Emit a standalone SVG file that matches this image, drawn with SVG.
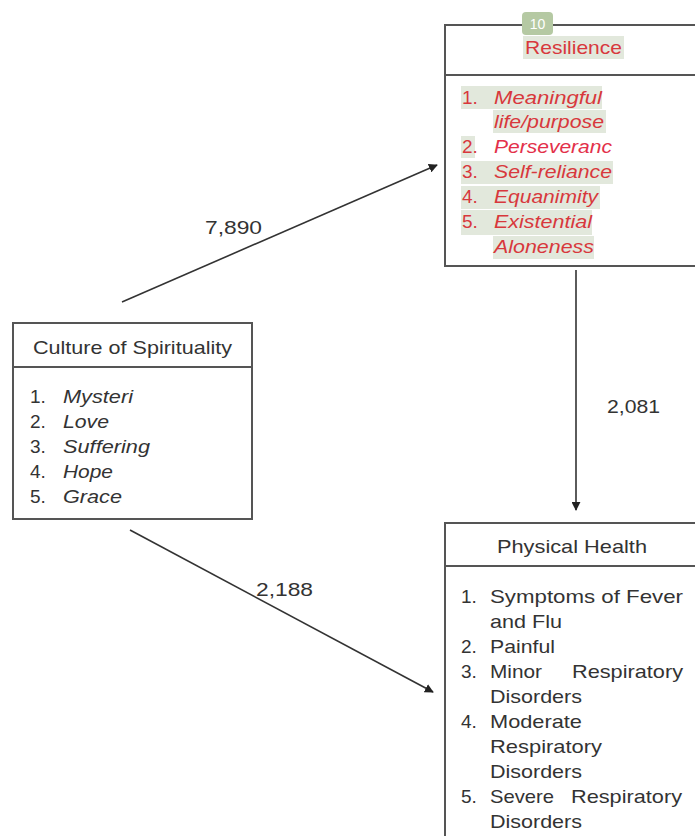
<svg xmlns="http://www.w3.org/2000/svg" width="695" height="836" viewBox="0 0 695 836">
<defs>
<style>
text{font-family:"Liberation Sans",Arial,sans-serif;font-size:19px;fill:#333}
.box{fill:#fff;stroke:#555;stroke-width:2}
.div{stroke:#555;stroke-width:2}
.it{font-style:italic}
.red{fill:#d8383c}
.hl{fill:#e2e8dc}
.conn{stroke:#333;stroke-width:1.6;fill:none;marker-end:url(#ah)}
</style>
<marker id="ah" viewBox="0 0 10 10" refX="9" refY="5" markerWidth="9" markerHeight="9" markerUnits="userSpaceOnUse" orient="auto">
<path d="M0,0 L10,5 L0,10 z" fill="#222"/>
</marker>
</defs>
<rect width="695" height="836" fill="#fff"/>

<g id="connectors">
<line class="conn" x1="122" y1="302" x2="437" y2="165"/>
<line class="conn" x1="576" y1="270" x2="576" y2="510"/>
<line class="conn" x1="130" y1="530" x2="433" y2="692"/>
<text x="205" y="234" textLength="57" lengthAdjust="spacingAndGlyphs">7,890</text>
<text x="607" y="413" textLength="53" lengthAdjust="spacingAndGlyphs">2,081</text>
<text x="256" y="596" textLength="57" lengthAdjust="spacingAndGlyphs">2,188</text>
</g>

<g id="resilience">
<rect class="box" x="445" y="25" width="260" height="241"/>
<line class="div" x1="445" y1="75" x2="705" y2="75"/>
<rect x="522" y="12" width="31" height="23" rx="4" fill="#b5c9a3"/>
<text x="537.5" y="29" text-anchor="middle" style="font-size:14px;fill:#fff">10</text>
<rect class="hl" x="523" y="36" width="101" height="23"/>
<rect class="hl" x="461" y="86" width="141" height="23"/>
<rect class="hl" x="493" y="110" width="113" height="23"/>
<rect class="hl" x="461" y="136" width="14" height="22"/>
<rect class="hl" x="461" y="161" width="152" height="23"/>
<rect class="hl" x="461" y="186" width="139" height="23"/>
<rect class="hl" x="461" y="210" width="131" height="25"/>
<rect class="hl" x="493" y="236" width="101" height="23"/>
<text class="red" x="525" y="54" textLength="97" lengthAdjust="spacingAndGlyphs">Resilience</text>
<text class="red" x="462" y="104">1.</text><text class="red it" x="494" y="104" textLength="108" lengthAdjust="spacingAndGlyphs">Meaningful</text>
<text class="red it" x="494" y="128" textLength="110" lengthAdjust="spacingAndGlyphs">life/purpose</text>
<text class="red" x="462" y="153">2.</text><text class="red it" x="494" y="153" style="fill:#e3304a" textLength="118" lengthAdjust="spacingAndGlyphs">Perseveranc</text>
<text class="red" x="462" y="178">3.</text><text class="red it" x="494" y="178" textLength="118" lengthAdjust="spacingAndGlyphs">Self-reliance</text>
<text class="red" x="462" y="203">4.</text><text class="red it" x="494" y="203" textLength="104" lengthAdjust="spacingAndGlyphs">Equanimity</text>
<text class="red" x="462" y="228">5.</text><text class="red it" x="494" y="228" textLength="98" lengthAdjust="spacingAndGlyphs">Existential</text>
<text class="red it" x="494" y="253" textLength="100" lengthAdjust="spacingAndGlyphs">Aloneness</text>
</g>

<g id="culture">
<rect class="box" x="13" y="323" width="239" height="196"/>
<line class="div" x1="13" y1="367" x2="252" y2="367"/>
<text x="33" y="354" textLength="199" lengthAdjust="spacingAndGlyphs">Culture of Spirituality</text>
<text x="30" y="403">1.</text><text class="it" x="63" y="403" textLength="70" lengthAdjust="spacingAndGlyphs">Mysteri</text>
<text x="30" y="428">2.</text><text class="it" x="63" y="428" textLength="46" lengthAdjust="spacingAndGlyphs">Love</text>
<text x="30" y="453">3.</text><text class="it" x="63" y="453" textLength="87" lengthAdjust="spacingAndGlyphs">Suffering</text>
<text x="30" y="478">4.</text><text class="it" x="63" y="478" textLength="50" lengthAdjust="spacingAndGlyphs">Hope</text>
<text x="30" y="503">5.</text><text class="it" x="63" y="503" textLength="59" lengthAdjust="spacingAndGlyphs">Grace</text>
</g>

<g id="physical-health">
<rect class="box" x="445" y="523" width="260" height="330"/>
<line class="div" x1="445" y1="566" x2="705" y2="566"/>
<text x="497" y="553" textLength="150" lengthAdjust="spacingAndGlyphs">Physical Health</text>
<text x="461" y="603">1.</text><text x="490" y="603" textLength="193" lengthAdjust="spacingAndGlyphs">Symptoms of Fever</text>
<text x="490" y="628" textLength="72" lengthAdjust="spacingAndGlyphs">and Flu</text>
<text x="461" y="653">2.</text><text x="490" y="653" textLength="65" lengthAdjust="spacingAndGlyphs">Painful</text>
<text x="461" y="678">3.</text><text x="490" y="678" textLength="52" lengthAdjust="spacingAndGlyphs">Minor</text><text x="572" y="678" textLength="111" lengthAdjust="spacingAndGlyphs">Respiratory</text>
<text x="490" y="703" textLength="92" lengthAdjust="spacingAndGlyphs">Disorders</text>
<text x="461" y="728">4.</text><text x="490" y="728" textLength="92" lengthAdjust="spacingAndGlyphs">Moderate</text>
<text x="490" y="753" textLength="112" lengthAdjust="spacingAndGlyphs">Respiratory</text>
<text x="490" y="778" textLength="92" lengthAdjust="spacingAndGlyphs">Disorders</text>
<text x="461" y="803">5.</text><text x="490" y="803" textLength="64" lengthAdjust="spacingAndGlyphs">Severe</text><text x="571" y="803" textLength="111" lengthAdjust="spacingAndGlyphs">Respiratory</text>
<text x="490" y="828" textLength="92" lengthAdjust="spacingAndGlyphs">Disorders</text>
</g>
</svg>
